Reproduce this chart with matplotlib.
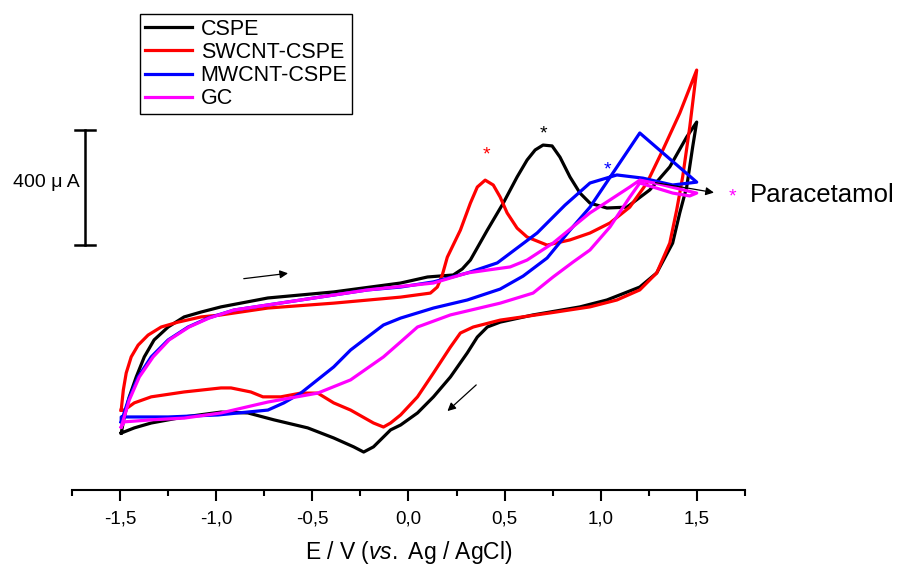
import matplotlib.pyplot as plt
from matplotlib.ticker import MultipleLocator, FuncFormatter

plt.rcParams["font.family"] = ["Liberation Sans", "DejaVu Sans"]
plt.rcParams["mathtext.fontset"] = "custom"
plt.rcParams["mathtext.rm"] = "Liberation Sans"
plt.rcParams["mathtext.it"] = "Liberation Sans:italic"

# potential (V vs Ag/AgCl) and current (uA)
cspe_e = [-1.494, -1.478, -1.452, -1.416, -1.374, -1.323, -1.250, -1.167, -1.079, -0.975,
          -0.731, -0.389, -0.041, 0.099, 0.233, 0.280, 0.322, 0.410, 0.493, 0.565,
          0.617, 0.659, 0.700, 0.747, 0.788, 0.840, 0.892, 0.944, 1.032, 1.136,
          1.255, 1.359, 1.447, 1.499, 1.478, 1.447, 1.411, 1.374, 1.291, 1.203,
          1.032, 0.892, 0.648, 0.477, 0.410, 0.358, 0.306, 0.218, 0.130, 0.047,
          -0.041, -0.093, -0.182, -0.233, -0.285, -0.389, -0.524, -0.700, -0.835, -0.975,
          -1.167, -1.338, -1.426, -1.494]
cspe_i = [-289, -233, -163, -94, -24, 35, 80, 115, 132, 150,
          181, 202, 233, 254, 261, 282, 313, 417, 511, 602,
          661, 696, 713, 710, 671, 602, 546, 511, 494, 497,
          557, 637, 741, 793, 706, 567, 477, 372, 268, 219,
          174, 150, 122, 97, 80, 45, -10, -94, -163, -219,
          -261, -278, -337, -355, -337, -306, -271, -243, -219, -216,
          -233, -254, -271, -289]

swcnt_e = [-1.494, -1.483, -1.468, -1.442, -1.406, -1.354, -1.286, -1.198, -1.079, -0.975,
           -0.731, -0.389, -0.041, 0.114, 0.150, 0.176, 0.202, 0.270, 0.322, 0.358,
           0.399, 0.441, 0.477, 0.513, 0.565, 0.617, 0.721, 0.840, 0.944, 1.048,
           1.151, 1.240, 1.323, 1.411, 1.499, 1.463, 1.426, 1.395, 1.359, 1.291,
           1.203, 1.084, 0.944, 0.737, 0.477, 0.337, 0.270, 0.218, 0.130, 0.047,
           -0.041, -0.093, -0.130, -0.182, -0.301, -0.389, -0.472, -0.560, -0.664, -0.757,
           -0.820, -0.923, -0.975, -1.167, -1.338, -1.426, -1.478, -1.494]
swcnt_i = [-209, -139, -80, -24, 17, 52, 80, 97, 115, 122,
           146, 163, 184, 198, 219, 261, 323, 417, 511, 567,
           591, 574, 532, 477, 424, 393, 365, 383, 407, 442,
           497, 581, 696, 824, 974, 776, 602, 487, 372, 268,
           209, 174, 150, 129, 104, 80, 59, 10, -80, -163,
           -226, -254, -268, -254, -209, -184, -150, -150, -163, -163,
           -146, -132, -132, -146, -163, -184, -209, -209]

mwcnt_e = [-1.494, -1.457, -1.406, -1.338, -1.250, -1.146, -1.043, -0.908, -0.560, -0.213,
           -0.041, 0.130, 0.306, 0.462, 0.669, 0.814, 0.944, 1.084, 1.219, 1.374,
           1.499, 1.203, 0.944, 0.840, 0.721, 0.596, 0.477, 0.306, 0.130, -0.041,
           -0.130, -0.213, -0.301, -0.389, -0.560, -0.648, -0.731, -0.991, -1.250, -1.494,
           -1.494]
mwcnt_i = [-250, -174, -94, -24, 35, 80, 111, 139, 174, 209,
           219, 237, 268, 303, 407, 504, 581, 609, 598, 574,
           584, 755, 497, 417, 320, 257, 212, 174, 146, 111,
           87, 45, 0, -59, -150, -184, -209, -226, -233, -233,
           -250]

gc_e = [-1.494, -1.452, -1.400, -1.328, -1.245, -1.141, -1.037, -0.908, -0.560, -0.213,
        0.130, 0.306, 0.410, 0.529, 0.617, 0.752, 0.944, 1.048, 1.151, 1.203,
        1.307, 1.411, 1.499, 1.463, 1.374, 1.291, 1.203, 1.151, 1.048, 0.944,
        0.856, 0.752, 0.648, 0.477, 0.218, 0.047, -0.041, -0.130, -0.301, -0.472,
        -0.731, -0.975, -1.167, -1.338, -1.478, -1.494]
gc_i = [-268, -174, -94, -24, 35, 80, 111, 139, 174, 209,
        233, 268, 278, 289, 313, 372, 477, 522, 567, 591,
        577, 560, 546, 536, 546, 563, 581, 532, 428, 348,
        306, 254, 198, 163, 122, 80, 28, -24, -104, -150,
        -181, -219, -237, -243, -250, -268]

labels = ["CSPE", "SWCNT-CSPE", "MWCNT-CSPE", "GC"]
colors = ["#000000", "#ff0000", "#0000ff", "#ff00ff"]

# peak markers (E, I)
peak_e = [0.700, 0.405, 1.037]
peak_i = [751, 678, 626]
peak_colors = ["#000000", "#ff0000", "#0000ff"]

fig = plt.figure(figsize=(9.01, 5.70), dpi=100)
ax = fig.add_axes([0.0799, 0.1404, 0.7469, 0.8421])

curves = [(cspe_e, cspe_i), (swcnt_e, swcnt_i), (mwcnt_e, mwcnt_i), (gc_e, gc_i)]
for (e, i), lab, col in zip(curves, labels, colors):
    ax.plot(e, i, color=col, lw=2.3, label=lab, solid_joinstyle="round")

for e, i, c in zip(peak_e, peak_i, peak_colors):
    ax.text(e, i, "*", color=c, fontsize=14, ha="center", va="center")

# scan direction arrows
ax.annotate("", xy=(-0.612, 268), xytext=(-0.871, 247),
            arrowprops=dict(arrowstyle="-|>", color="black", lw=0.9, mutation_scale=12))
ax.annotate("", xy=(0.192, -219), xytext=(0.363, -115),
            arrowprops=dict(arrowstyle="-|>", color="black", lw=0.9, mutation_scale=12))
ax.annotate("", xy=(1.603, 546), xytext=(1.271, 584),
            arrowprops=dict(arrowstyle="-|>", color="black", lw=0.9, mutation_scale=12),
            annotation_clip=False)
ax.text(1.686, 532, "*", color="#ff00ff", fontsize=14, ha="center", va="center",
        clip_on=False)
ax.text(1.774, 540, "Paracetamol", fontsize=18.5, ha="left", va="center", clip_on=False)

# 400 uA scale bar
bar_x, bar_top = -1.680, 765
ax.plot([bar_x, bar_x], [bar_top, bar_top - 400], color="black", lw=1.8, clip_on=False)
for yy in (bar_top, bar_top - 400):
    ax.plot([bar_x - 0.052, bar_x + 0.052], [yy, yy], color="black", lw=1.8,
            clip_on=False)
ax.text(-1.708, 584, "400 \u03bc A", fontsize=14, ha="right", va="center", clip_on=False)

ax.set_xlim(-1.75, 1.75)
ax.set_ylim(-487, 1183)
for s in ["left", "right", "top"]:
    ax.spines[s].set_visible(False)
ax.spines["bottom"].set_linewidth(1.5)
ax.set_yticks([])
ax.xaxis.set_major_locator(MultipleLocator(0.5))
ax.xaxis.set_minor_locator(MultipleLocator(0.25))
ax.xaxis.set_major_formatter(FuncFormatter(lambda v, p: f"{v:.1f}".replace(".", ",")))
ax.tick_params(axis="x", which="major", length=8, width=1.5, labelsize=13.5, pad=7)
ax.tick_params(axis="x", which="minor", length=4, width=1.5)
ax.set_xlabel("E / V ($\\mathit{vs.}$ Ag / AgCl)", fontsize=16.5, labelpad=8)

ax.legend(loc="upper left", bbox_to_anchor=(140 / 901, 1 - 14 / 570),
          bbox_transform=fig.transFigure, borderaxespad=0, fontsize=15.5,
          frameon=True, fancybox=False, edgecolor="black", framealpha=1,
          handlelength=2.2, handletextpad=0.4, labelspacing=0.1,
          borderpad=0.22)

plt.savefig("out.png", dpi=100)
plt.close()
